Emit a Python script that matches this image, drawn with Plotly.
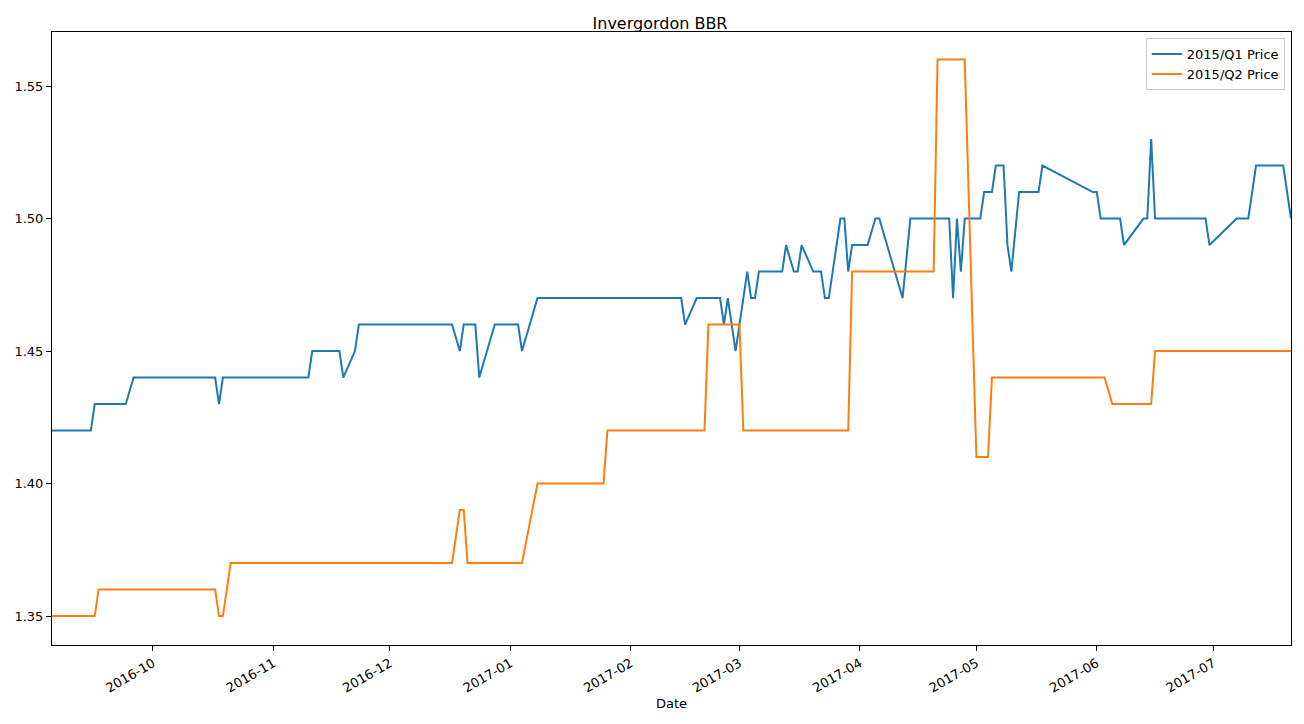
import plotly.graph_objects as go

# 2015/Q1 price series
q1_dates = ["2016-09-05", "2016-09-15", "2016-09-16", "2016-09-24", "2016-09-26", "2016-10-17",
            "2016-10-18", "2016-10-19", "2016-11-10", "2016-11-11", "2016-11-18", "2016-11-19",
            "2016-11-22", "2016-11-23", "2016-12-17", "2016-12-19", "2016-12-20", "2016-12-23",
            "2016-12-24", "2016-12-28", "2017-01-03", "2017-01-04", "2017-01-08", "2017-02-14",
            "2017-02-15", "2017-02-18", "2017-02-24", "2017-02-25", "2017-02-26", "2017-02-28",
            "2017-03-02", "2017-03-03", "2017-03-04", "2017-03-05", "2017-03-06", "2017-03-12",
            "2017-03-13", "2017-03-15", "2017-03-16", "2017-03-17", "2017-03-20", "2017-03-22",
            "2017-03-23", "2017-03-24", "2017-03-27", "2017-03-28", "2017-03-29", "2017-03-30",
            "2017-04-03", "2017-04-05", "2017-04-06", "2017-04-12", "2017-04-14", "2017-04-24",
            "2017-04-25", "2017-04-26", "2017-04-27", "2017-04-28", "2017-05-02", "2017-05-03",
            "2017-05-05", "2017-05-06", "2017-05-08", "2017-05-09", "2017-05-10", "2017-05-12",
            "2017-05-17", "2017-05-18", "2017-05-31", "2017-06-01", "2017-06-02", "2017-06-07",
            "2017-06-08", "2017-06-13", "2017-06-14", "2017-06-15", "2017-06-16", "2017-06-29",
            "2017-06-30", "2017-07-07", "2017-07-10", "2017-07-12", "2017-07-19", "2017-07-21"]
q1_price = [1.42, 1.42, 1.43, 1.43, 1.44, 1.44,
            1.43, 1.44, 1.44, 1.45, 1.45, 1.44,
            1.45, 1.46, 1.46, 1.45, 1.46, 1.46,
            1.44, 1.46, 1.46, 1.45, 1.47, 1.47,
            1.46, 1.47, 1.47, 1.46, 1.47, 1.45,
            1.47, 1.48, 1.47, 1.47, 1.48, 1.48,
            1.49, 1.48, 1.48, 1.49, 1.48, 1.48,
            1.47, 1.47, 1.50, 1.50, 1.48, 1.49,
            1.49, 1.50, 1.50, 1.47, 1.50, 1.50,
            1.47, 1.50, 1.48, 1.50, 1.50, 1.51,
            1.51, 1.52, 1.52, 1.49, 1.48, 1.51,
            1.51, 1.52, 1.51, 1.51, 1.50, 1.50,
            1.49, 1.50, 1.50, 1.53, 1.50, 1.50,
            1.49, 1.50, 1.50, 1.52, 1.52, 1.50]

# 2015/Q2 price series
q2_dates = ["2016-09-05", "2016-09-16", "2016-09-17", "2016-10-17", "2016-10-18", "2016-10-19",
            "2016-10-21", "2016-12-17", "2016-12-19", "2016-12-20", "2016-12-21", "2017-01-04",
            "2017-01-08", "2017-01-25", "2017-01-26", "2017-02-20", "2017-02-21", "2017-03-01",
            "2017-03-02", "2017-03-29", "2017-03-30", "2017-04-20", "2017-04-21", "2017-04-28",
            "2017-05-01", "2017-05-04", "2017-05-05", "2017-06-03", "2017-06-05", "2017-06-15",
            "2017-06-16", "2017-07-21"]
q2_price = [1.35, 1.35, 1.36, 1.36, 1.35, 1.35,
            1.37, 1.37, 1.39, 1.39, 1.37, 1.37,
            1.40, 1.40, 1.42, 1.42, 1.46, 1.46,
            1.42, 1.42, 1.48, 1.48, 1.56, 1.56,
            1.41, 1.41, 1.44, 1.44, 1.43, 1.43,
            1.45, 1.45]

y_ticks = [1.35, 1.40, 1.45, 1.50, 1.55]
x_ticks = ["2016-10-01", "2016-11-01", "2016-12-01", "2017-01-01", "2017-02-01",
           "2017-03-01", "2017-04-01", "2017-05-01", "2017-06-01", "2017-07-01"]

fig = go.Figure()
fig.add_trace(go.Scatter(x=q1_dates, y=q1_price, mode='lines', name='2015/Q1 Price',
                         line=dict(color='#1f77b4', width=2)))
fig.add_trace(go.Scatter(x=q2_dates, y=q2_price, mode='lines', name='2015/Q2 Price',
                         line=dict(color='#ff7f0e', width=2)))

axis_common = dict(showline=True, linecolor='black', linewidth=1, mirror=True,
                   showgrid=False, zeroline=False, ticks='outside', ticklen=5,
                   tickcolor='black', tickfont=dict(size=13, color='black'),
                   automargin=False)

fig.update_xaxes(range=["2016-09-05", "2017-07-21"], tickvals=x_ticks,
                 ticktext=[d[:7] for d in x_ticks], tickangle=-30,
                 title=dict(text='Date', font=dict(size=13, color='black'), standoff=4),
                 **axis_common)
fig.update_yaxes(range=[1.3391, 1.5704], tickvals=y_ticks,
                 ticktext=[f"{v:.2f}" for v in y_ticks], **axis_common)

# the page body adds an 8px offset, so margins are shifted to compensate
fig.update_layout(
    width=1304, height=724,
    margin=dict(l=44, r=21, t=24, b=87),
    paper_bgcolor='white', plot_bgcolor='white',
    font=dict(family='DejaVu Sans', size=13, color='black'),
    title=dict(text='Invergordon BBR', x=0.5, xanchor='center', y=0.986,
               font=dict(size=16, color='black')),
    legend=dict(x=0.995, y=0.99, xanchor='right', yanchor='top',
                bordercolor='#cccccc', borderwidth=1, bgcolor='white',
                font=dict(size=13)),
    showlegend=True,
)

fig.write_html("out.html")
